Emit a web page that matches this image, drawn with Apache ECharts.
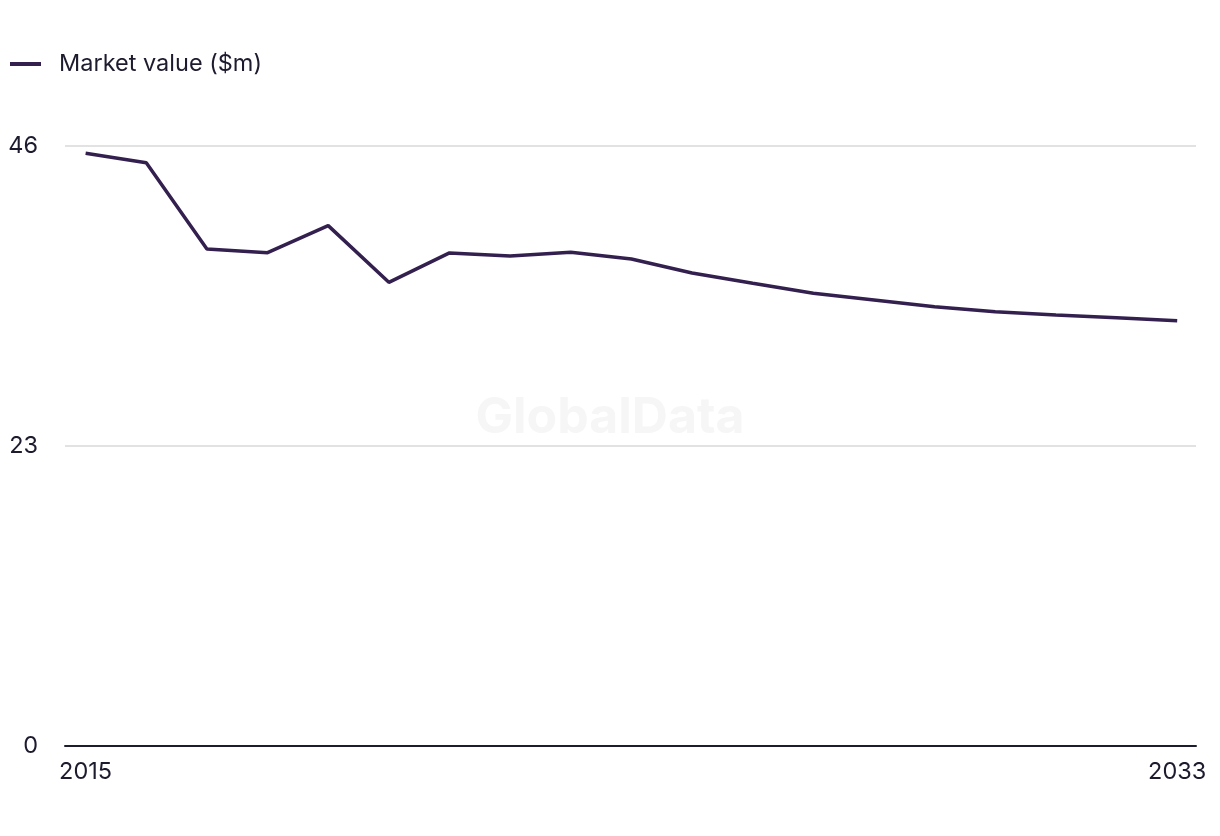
<!DOCTYPE html>
<html><head><meta charset="utf-8">
<script src="https://cdn.jsdelivr.net/npm/echarts@6/dist/echarts.min.js"></script>
<style>html,body{margin:0;padding:0;background:#fff}#c{width:1220px;height:836px}</style>
</head><body><div id="c"></div>
<script>
const years = [2015,2016,2017,2018,2019,2020,2021,2022,2023,2024,2025,2026,2027,2028,2029,2030,2031,2032,2033];
const marketValue = [45.4,44.68,38.07,37.79,39.86,35.52,37.77,37.54,37.82,37.31,36.23,35.45,34.68,34.17,33.65,33.27,33.02,32.81,32.58];
const yTicks = [0,23,46];
const xTickLabels = [2015,2033];
const seriesName = 'Market value ($m)';

const chart = echarts.init(document.getElementById('c'));
const font = 'Inter, "Noto Sans", sans-serif';
chart.setOption({
  animation:false,
  legend:{left:5,top:47,itemWidth:31,itemHeight:4,icon:'rect',
    textStyle:{fontFamily:font,fontSize:23.5,color:'#1d1b2e',padding:[0,0,0,13]},
    data:[seriesName]},
  graphic:[{type:'text',left:'center',top:393,z:-1,silent:true,
    style:{text:'GlobalData',fontFamily:font,fontWeight:'bold',fontSize:50,fill:'#f6f6f6'}}],
  grid:{left:65,right:24,top:145.5,bottom:90},
  xAxis:{type:'value',min:v=>v.min-0.34,max:v=>v.max+0.31,
    axisLine:{show:true,onZero:false,lineStyle:{color:'#1d1b2e',width:2}},
    axisTick:{show:false},splitLine:{show:false},
    axisLabel:{customValues:xTickLabels,fontFamily:font,fontSize:23.5,color:'#1d1b2e',margin:14,formatter:v=>String(v)}},
  yAxis:{type:'value',min:0,max:46,interval:23,
    axisLine:{show:false},axisTick:{show:false},
    splitLine:{lineStyle:{color:'#d9d9d9',width:1.5}},
    axisLabel:{customValues:yTicks,fontFamily:font,fontSize:23.5,color:'#1d1b2e',margin:27,verticalAlign:'middle'}},
  series:[{name:seriesName,type:'line',data:years.map((y,i)=>[y,marketValue[i]]),
    symbol:'none',lineStyle:{color:'#33204f',width:3.5},itemStyle:{color:'#33204f'}}]
});
</script></body></html>
